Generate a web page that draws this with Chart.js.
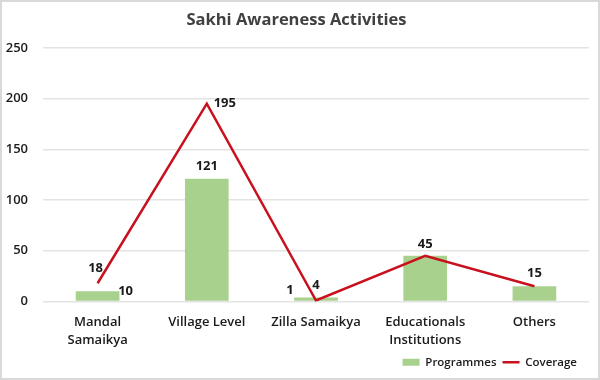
<!DOCTYPE html>
<html>
<head>
<meta charset="utf-8">
<script src="https://cdn.jsdelivr.net/npm/chart.js@4.4.0/dist/chart.umd.min.js"></script>
<style>
  html, body { margin: 0; padding: 0; background: #fff; }
  #wrap { width: 600px; height: 380px; box-sizing: border-box; border: 2px solid #d9d9d9; position: relative; }
  #c { display: block; }
</style>
</head>
<body>
<div id="wrap"><canvas id="c" width="596" height="376"></canvas></div>
<script>
const categories = [["Mandal", "Samaikya"], "Village Level", "Zilla Samaikya", ["Educationals", "Institutions"], "Others"];
const programmes = [10, 121, 4, 45, 15];
const coverage = [18, 195, 1, 45, 15];
const yTicks = [0, 50, 100, 150, 200, 250];

// label placement offsets (style only), keyed by series name
const labelOffsets = {
  Programmes: [[28, 0], [0, -12], [0, -12], [0, -12], [0, -13]],
  Coverage: [[-2, -15], [18, 0], [-26, -10], null, null]
};

const labelPlugin = {
  id: 'valueLabels',
  afterLayout(chart) {
    const lg = chart.legend;
    if (lg) { lg.left -= 6; lg.right -= 6; }
  },
  afterDatasetsDraw(chart) {
    const ctx = chart.ctx;
    ctx.save();
    ctx.font = 'bold 13px "Open Sans", sans-serif';
    ctx.fillStyle = '#1a1a1a';
    ctx.textAlign = 'center';
    ctx.textBaseline = 'middle';
    chart.data.datasets.forEach((ds, di) => {
      const meta = chart.getDatasetMeta(di);
      const offs = labelOffsets[ds.label];
      meta.data.forEach((el, i) => {
        const off = offs[i];
        if (!off) return;
        ctx.fillText(String(ds.data[i]), el.x + off[0], el.y + off[1]);
      });
    });
    ctx.restore();
  }
};

new Chart(document.getElementById('c'), {
  data: {
    labels: categories,
    datasets: [
      {
        type: 'line',
        label: 'Coverage',
        data: coverage,
        borderColor: '#c8101e',
        backgroundColor: '#c8101e',
        borderWidth: 2.5,
        pointRadius: 0,
        tension: 0,
        pointStyle: 'line',
        order: 0
      },
      {
        type: 'bar',
        label: 'Programmes',
        data: programmes,
        backgroundColor: '#a9d18e',
        borderColor: '#a9d18e',
        barPercentage: 0.8,
        categoryPercentage: 0.5,
        pointStyle: 'rect',
        order: 1
      }
    ]
  },
  options: {
    responsive: false,
    animation: false,
    devicePixelRatio: 1,
    layout: { padding: { left: 2, right: 9, top: 0, bottom: 0 } },
    plugins: {
      title: {
        display: true,
        text: 'Sakhi Awareness Activities',
        color: '#404040',
        font: { family: '"Open Sans", sans-serif', size: 16.5, weight: 'bold' },
        padding: { top: 8, bottom: 18 }
      },
      legend: {
        position: 'bottom',
        align: 'end',
        reverse: true,
        labels: {
          usePointStyle: true,
          pointStyleWidth: 17,
          boxWidth: 17,
          boxHeight: 7,
          color: '#1a1a1a',
          font: { family: '"Open Sans", sans-serif', size: 11.5, weight: '600' },
          padding: 6
        }
      },
      tooltip: { enabled: false }
    },
    scales: {
      x: {
        grid: { display: false },
        border: { display: false },
        afterFit(axis) { axis.height = 49; },
        ticks: {
          color: '#1a1a1a',
          padding: 4,
          font: { family: '"Open Sans", sans-serif', size: 13, weight: '600', lineHeight: 1.35 },
          maxRotation: 0,
          autoSkip: false
        }
      },
      y: {
        min: 0,
        max: 250,
        afterBuildTicks(axis) { axis.ticks = yTicks.map(v => ({ value: v })); },
        afterFit(axis) { axis.width = 39; },
        grid: { color: '#e3e3e3', lineWidth: 1.5, drawTicks: false },
        border: { display: false },
        ticks: {
          color: '#1a1a1a',
          padding: 15,
          font: { family: '"Open Sans", sans-serif', size: 13, weight: '600' }
        }
      }
    }
  },
  plugins: [labelPlugin]
});
</script>
</body>
</html>
